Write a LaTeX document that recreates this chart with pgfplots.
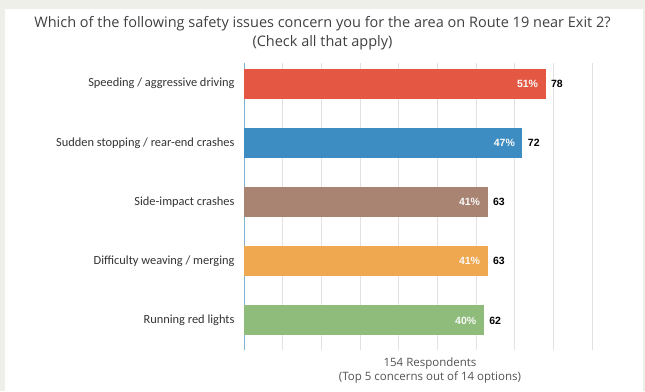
\documentclass[border=0pt]{standalone}
\usepackage{pgfplots}
\pgfplotsset{compat=1.18}
\usepackage{pgfplotstable}
\usepackage{fontspec}
\setmainfont{Carlito}
\newfontfamily\titlefont{Open Sans}
\newfontfamily\numfont{Liberation Sans}
\definecolor{bgout}{HTML}{EFEFE9}
\definecolor{cred}{HTML}{E35743}
\definecolor{cblue}{HTML}{3E8DC2}
\definecolor{cbrown}{HTML}{AA8473}
\definecolor{corange}{HTML}{F0A850}
\definecolor{cgreen}{HTML}{8FBC7A}
\definecolor{axblue}{HTML}{7FB2CF}
\definecolor{gridc}{HTML}{E2E2E2}
\definecolor{titlec}{HTML}{404040}
\pgfplotstableread{
y val pct
0 78 51
1 72 47
2 63 41
3 63 41
4 62 40
}\data
\begin{document}
\begin{tikzpicture}[x=1bp,y=1bp]
\fill[bgout] (0,0) rectangle (645,391);
\fill[white] (5,0) rectangle (643,382);
\node[anchor=base,text=titlec,font=\titlefont\fontsize{14.5bp}{17bp}\selectfont] at (322.5,364) {Which of the following safety issues concern you for the area on Route 19 near Exit 2?};
\node[anchor=base,text=titlec,font=\titlefont\fontsize{14.5bp}{17bp}\selectfont] at (322.5,345) {(Check all that apply)};
\begin{axis}[
  at={(244bp,41bp)}, anchor=south west,
  scale only axis, width=348bp, height=287bp,
  xmin=0, xmax=90, ymin=-0.35, ymax=4.5,
  y dir=reverse,
  xbar, bar width=30bp, bar shift=0pt,
  axis y line*=left, axis x line*=bottom,
  x axis line style={draw=none},
  y axis line style={draw=axblue, line width=1bp},
  xtick={0,10,...,90}, xticklabels={},
  xmajorgrids, grid style={draw=gridc, line width=0.8bp},
  major tick length=0pt,
  ytick={0,1,2,3,4},
  yticklabels={Speeding / aggressive driving, Sudden stopping / rear-end crashes, Side-impact crashes, Difficulty weaving / merging, Running red lights},
  yticklabel style={font=\fontsize{12.4bp}{14bp}\selectfont, text=black!80, xshift=-6bp},
  /pgf/number format/assume math mode=true,
  clip=false,
]
\addplot[fill=cred, draw=none] coordinates {(78,0)};
\addplot[fill=cblue, draw=none] coordinates {(72,1)};
\addplot[fill=cbrown, draw=none] coordinates {(63,2)};
\addplot[fill=corange, draw=none] coordinates {(63,3)};
\addplot[fill=cgreen, draw=none] coordinates {(62,4)};
\addplot[draw=none, fill=none,
  nodes near coords={\pgfmathprintnumber{\pgfplotspointmeta}},
  point meta=x,
  every node near coord/.append style={anchor=west, xshift=2bp, font=\numfont\bfseries\fontsize{10.5bp}{12bp}\selectfont, text=black}
] table[x=val, y=y] {\data};
\addplot[draw=none, fill=none,
  visualization depends on={\thisrow{pct} \as \pct},
  nodes near coords={\pgfmathprintnumber{\pct}\%},
  every node near coord/.append style={anchor=east, xshift=-4bp, font=\numfont\bfseries\fontsize{10.5bp}{12bp}\selectfont, text=white!95!gray}
] table[x=val, y=y] {\data};
\end{axis}
\node[anchor=base,text=titlec!90,font=\titlefont\fontsize{11.5bp}{13bp}\selectfont] at (430,25) {154 Respondents};
\node[anchor=base,text=titlec!90,font=\titlefont\fontsize{11.5bp}{13bp}\selectfont] at (430,11) {(Top 5 concerns out of 14 options)};
\end{tikzpicture}
\end{document}
